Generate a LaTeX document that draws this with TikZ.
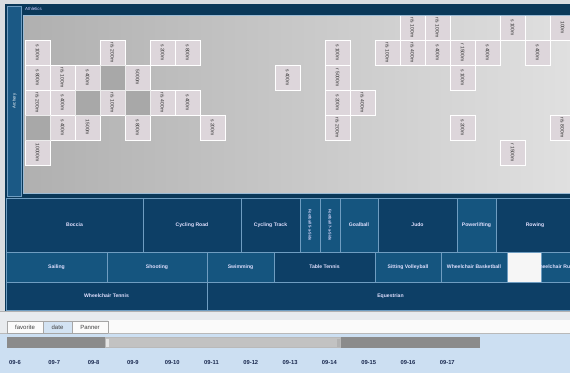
\documentclass[tikz,border=0pt]{standalone}
\usepackage{fontspec}
\newfontfamily\ui{Liberation Sans}
\definecolor{screen}{HTML}{D9DDE1}
\definecolor{navy}{HTML}{0A3859}
\definecolor{archb}{HTML}{1B5985}
\definecolor{midb}{HTML}{15557F}
\definecolor{darkb}{HTML}{0D3F66}
\definecolor{edgeb}{HTML}{6F9DC1}
\definecolor{tilef}{HTML}{DDD6DB}
\definecolor{tiled}{HTML}{A8A8A8}
\definecolor{grayL}{HTML}{B0B0B0}
\definecolor{grayR}{HTML}{E0E0E0}
\definecolor{tabbg}{HTML}{E8EBEE}
\definecolor{panelb}{HTML}{CCDFF2}
\definecolor{tabsel}{HTML}{D3E3F3}
\definecolor{trackc}{HTML}{8B8B8B}
\definecolor{thumbc}{HTML}{C2C2C2}
\definecolor{datec}{HTML}{1B2A50}
\definecolor{tiletext}{HTML}{2E2E2E}
\newcommand\cellbox[7]{%
  \pgfmathsetmacro\cx{(#2+#4)/2}\pgfmathsetmacro\cy{(#3+#5)/2}%
  \pgfmathsetmacro\cw{#4-#2}\pgfmathsetmacro\ch{#5-#3}%
  \node[#6, minimum width=\cw pt, minimum height=\ch pt] (#1) at (\cx,\cy) {#7};}
\tikzset{
  sport/.style={draw=edgeb, line width=0.7pt, inner sep=0pt, outer sep=0pt,
    text=white!88!blue, font=\ui\fontsize{5.1}{6}\selectfont\bfseries},
  sdark/.style={sport, fill=darkb},
  smid/.style={sport, fill=midb},
  svert/.style={sport, fill=midb},
  vtxt/.style={rotate=-90, text=white!85!blue, font=\ui\fontsize{3.9}{4}\selectfont\bfseries, inner sep=0pt},
  tile/.style={draw=white, line width=0.6pt, fill=tilef, inner sep=0pt, outer sep=0pt,
    minimum width=25pt, minimum height=25pt, rotate=-90,
    text=tiletext, font=\ui\fontsize{5}{6}\selectfont},
  darktile/.style={draw=white!85!gray, line width=0.6pt, fill=tiled, inner sep=0pt,
    outer sep=0pt, minimum width=25pt, minimum height=25pt},
  tab/.style={draw=gray!70, line width=0.5pt, inner sep=0pt, outer sep=0pt,
    text=black!75, font=\ui\fontsize{6}{7}\selectfont},
  datelbl/.style={text=datec, font=\ui\fontsize{5.8}{7}\selectfont\bfseries, inner sep=0pt},
}
\begin{document}
\begin{tikzpicture}[x=1pt,y=-1pt]
\useasboundingbox (0,0) rectangle (570,373);
\clip (0,0) rectangle (570,373);
\fill[screen] (0,0) rectangle (570,373);
% ---------- top panel ----------
\fill[navy] (5,4) rectangle (572,198);
\node[draw=edgeb, line width=0.6pt, fill=archb, inner sep=0pt, minimum width=14pt,
  minimum height=190pt] (archery) at (14.5,101) {};
\node[rotate=90, text=white, font=\ui\fontsize{4.2}{5}\selectfont] (archtxt) at (archery.center) {Archery};
\node[anchor=west, text=white!80!blue, font=\ui\fontsize{4.4}{5}\selectfont, inner sep=0pt]
  (athletics) at (25,9) {Athletics};
\shade[left color=grayL, right color=grayR] (23,15.5) rectangle (572,193.5);
\draw[edgeb!70!white, line width=0.7pt] (23,15.5) -- (572,15.5);
\draw[edgeb!70!white, line width=0.7pt] (23,15.5) -- (23,193.5) -- (572,193.5);
\begin{scope}
\clip (23.5,16) rectangle (572,193);
\foreach \c/\r/\t in {
  1/1/{s 100m}, 4/1/{r/s 200m}, 6/1/{s 200m}, 7/1/{s 800m}, 13/1/{s 100m}, 15/1/{r/s 100m},
  16/1/{r/s 400m}, 17/1/{s 400m}, 18/1/{r 1500m}, 19/1/{s 400m}, 21/1/{s 400m},
  16/0/{r/s 100m}, 17/0/{r/s 100m}, 20/0/{s 100m}, 22/0/{100m},
  1/2/{s 800m}, 2/2/{r/s 100m}, 3/2/{s 400m}, 5/2/{5000m}, 11/2/{s 400m}, 13/2/{r 5000m}, 18/2/{s 100m},
  1/3/{r/s 200m}, 2/3/{s 400m}, 4/3/{r/s 100m}, 6/3/{r/s 400m}, 7/3/{s 400m}, 13/3/{s 200m}, 14/3/{r/s 400m},
  2/4/{s 400m}, 3/4/{1500m}, 5/4/{s 800m}, 8/4/{s 200m}, 13/4/{r/s 200m}, 18/4/{s 200m}, 22/4/{r/s 800m},
  1/5/{10000m}, 20/5/{r 1500m}}
  { \node[tile] (t\c-\r) at ({25*\c+12.5},{25*\r+27.5}) {\t}; }
\foreach \c/\r in {4/2, 3/3, 5/3, 1/4}
  { \node[darktile] (d\c-\r) at ({25*\c+12.5},{25*\r+27.5}) {}; }
\end{scope}
% ---------- sports treemap ----------
\fill[navy] (5,197) rectangle (572,311);
\cellbox{boccia}{6}{198}{143}{252}{sdark}{Boccia}
\cellbox{cycroad}{143}{198}{241}{252}{sdark}{Cycling Road}
\cellbox{cyctrack}{241}{198}{300}{252}{sdark}{Cycling Track}
\cellbox{fbfive}{300}{198}{320}{252}{svert}{}
\cellbox{fbseven}{320}{198}{340}{252}{svert}{}
\node[vtxt] (fbfivetxt) at (fbfive.center) {Football 5-a-Side};
\node[vtxt] (fbseventxt) at (fbseven.center) {Football 7-a-Side};
\cellbox{goalball}{340}{198}{378}{252}{smid}{Goalball}
\cellbox{judo}{378}{198}{457}{252}{sdark}{Judo}
\cellbox{power}{457}{198}{496}{252}{smid}{Powerlifting}
\cellbox{rowing}{496}{198}{574}{252}{sdark}{Rowing}
\cellbox{sailing}{6}{252}{107}{282}{smid}{Sailing}
\cellbox{shooting}{107}{252}{207}{282}{smid}{Shooting}
\cellbox{swimming}{207}{252}{274}{282}{smid}{Swimming}
\cellbox{tabletennis}{274}{252}{375}{282}{sdark}{Table Tennis}
\cellbox{sitvolley}{375}{252}{441}{282}{smid}{Sitting Volleyball}
\cellbox{wcbasket}{441}{252}{507}{282}{smid}{Wheelchair Basketball}
\cellbox{blank}{507}{252}{541}{282}{sport, fill=white!93!gray}{}
\begin{scope}
\clip (541,252) rectangle (572,282);
\cellbox{wcrugby}{541}{252}{580}{282}{smid}{}
\node[text=white!88!blue, font=\ui\fontsize{5.1}{6}\selectfont\bfseries, inner sep=0pt, anchor=west]
  (wcrugbytxt) at (534.5,267) {Wheelchair Rugby};
\end{scope}
\cellbox{wctennis}{6}{282}{207}{310}{sdark}{Wheelchair Tennis}
\cellbox{equestrian}{207}{282}{574}{310}{sdark}{Equestrian}
% ---------- bottom controls ----------
\fill[tabbg] (0,311) rectangle (570,333);
\draw[gray!60, line width=0.5pt] (0,311.5) -- (570,311.5);
\fill[panelb] (0,333) rectangle (570,373);
\draw[gray!55, line width=0.5pt] (108,320) -- (570,320);
\fill[white!96!gray] (108,320.3) rectangle (570,332.5);
\cellbox{favorite}{7}{321}{43}{333}{tab, fill=white!97!gray}{favorite}
\cellbox{date}{43}{321}{72}{333}{tab, fill=tabsel}{date}
\cellbox{planner}{72}{321}{108}{333}{tab, fill=white!97!gray}{Panner}
\draw[gray!55, line width=0.5pt] (0,333) -- (7,333) (108,333) -- (570,333);
\node[fill=trackc, inner sep=0pt, minimum width=473pt, minimum height=11pt] (track) at (243.5,342.5) {};
\node[fill=thumbc, draw=gray!55, line width=0.4pt, inner sep=0pt, minimum width=235pt, minimum height=10pt] (thumb) at (222.5,342.5) {};
\node[fill=white!80!gray, inner sep=0pt, minimum width=3pt, minimum height=8pt] (hleft) at (107,342.5) {};
\node[fill=gray!60, inner sep=0pt, minimum width=3pt, minimum height=8pt] (hright) at (338,342.5) {};
\foreach \i [count=\k from 0] in {6,...,17}
  { \node[datelbl] (date\i) at ({15+39.3*\k},362.5) {09-\i}; }
\end{tikzpicture}
\end{document}
